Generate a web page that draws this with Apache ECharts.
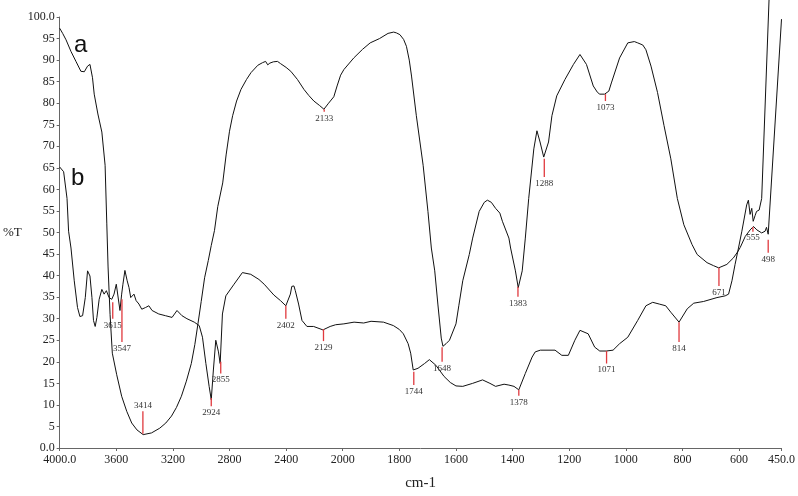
<!DOCTYPE html>
<html>
<head>
<meta charset="utf-8">
<script src="https://cdn.jsdelivr.net/npm/echarts@6/dist/echarts.min.js"></script>
<style>html,body{margin:0;padding:0;background:#fff}#c{width:798px;height:496px}</style>
</head>
<body>
<div id="c"></div>
<script>
// ---- data (wavenumber in cm-1, transmittance %T) ----
const aWn = [4000,3979,3955,3920,3885,3850,3826,3803,3786,3775,3768,3756,3730,3702,3679,3667,3658,3644,3628,3597,3562,3526,3491,3454,3410,3351,3293,3250,3210,3175,3140,3105,3070,3045,3023,3000,2976,2950,2929,2906,2883,2848,2824,2800,2778,2750,2719,2680,2648,2600,2567,2545,2530,2515,2490,2461,2440,2400,2367,2320,2274,2240,2204,2165,2133,2100,2063,2040,2015,1996,1961,1930,1903,1870,1840,1820,1810,1798,1785,1775,1765,1757,1740,1716,1699,1687,1675,1664,1652,1646,1635,1623,1600,1590,1576,1553,1541,1518,1500,1489,1475,1460,1445,1436,1413,1407,1390,1380,1366,1355,1343,1325,1314,1303,1290,1273,1261,1244,1215,1185,1162,1139,1115,1100,1092,1075,1060,1051,1022,993,970,958,940,929,911,888,865,841,818,795,766,748,713,690,672,643,620,605,596,578,561,549,537,520,508,503,497,450];
const aT  = [97.4,96.2,94.7,92,89.7,87.4,87.3,88.6,89,88.6,85.9,82.1,77.5,73.3,65.6,52,42,31,22,17,12,8.5,5.8,4.2,3.1,3.5,4.6,5.8,7.4,9.4,12,15.5,19.6,24,28.8,34,39.5,43.5,47,50.5,56,61.5,68,73.5,77.1,80.5,83.2,85.5,87.1,88.8,89.4,89.7,88.9,89.3,89.6,89.7,89.2,88.3,87.4,85.5,83.2,81.8,80.5,79.5,78.6,80,81.5,84,86.5,87.8,90.5,92.5,94,95,96.2,96.5,96.3,95.9,94.8,93.2,90,86.3,77.1,65.6,54.9,46.4,41.1,33.4,25.5,23.6,24.2,25,28.8,33,38.8,44.9,48.7,54.9,57,57.5,57,55.6,54.5,52.6,48.7,46.4,41.1,37.2,41.1,48.7,57.9,69.4,73.6,71,67.5,71,77.1,81.7,85.5,89,91.3,89,84,82.5,82.1,82.1,82.8,84.7,90.5,94,94.3,94,93.5,92.4,88.6,82.5,74.8,67.1,57.9,51.8,47.2,44.9,43,42.3,41.8,42.6,44.1,45.5,46.5,49.1,50.6,51.4,50.6,49.9,50.3,51.2,49.6,99.5];

const bWn = [4000,3972,3948,3937,3920,3897,3874,3857,3838,3819,3803,3786,3772,3761,3749,3737,3721,3702,3686,3670,3651,3632,3616,3600,3586,3574,3562,3553,3539,3523,3510,3498,3475,3460,3440,3420,3393,3370,3347,3300,3253,3206,3171,3136,3101,3049,3014,2991,2967,2944,2929,2914,2897,2878,2866,2850,2826,2768,2709,2650,2592,2555,2487,2440,2402,2370,2360,2352,2345,2335,2312,2288,2253,2206,2140,2089,2050,1996,1960,1926,1900,1856,1821,1800,1786,1769,1760,1751,1745,1734,1711,1694,1671,1642,1620,1600,1576,1541,1506,1480,1460,1430,1413,1395,1378,1355,1331,1320,1302,1250,1226,1203,1180,1162,1133,1110,1092,1069,1045,1022,993,958,929,905,882,859,841,812,783,760,725,678,649,637,625,614,602,590,573,567,561,555,550,543,538,529,520,494];
const bT  = [65.2,64.1,57.9,50.3,46.4,38.8,32.6,30.5,30.7,34.9,41.1,39.9,34.9,29.6,28.2,30.3,34.5,36.8,35.7,36.5,34.9,34.5,35.7,38,38.4,31.9,35.7,38,41.2,38.8,37.2,34.9,35.7,34.2,33.4,32.2,32.6,33,31.9,31.1,30.7,30.3,31.9,30.7,30,29.2,28.4,25.7,19.6,14.3,11.2,18.1,25,22.3,19.6,31.1,35.3,38,40.7,40.3,39.1,38,35.5,34.2,33,35.7,37.5,37.2,37.6,36.5,33.4,29.6,28.2,28.2,27.4,28.2,28.6,28.8,29.2,29,29.4,29.2,28.4,27.5,26.5,24.2,22,18.1,17.8,18.5,19.6,20.5,19.2,16.6,15.2,14.4,14.3,15,15.8,15,14.3,14.8,14.6,14.3,13.5,17.3,21.1,22.3,22.7,22.7,21.5,21.5,25,27.3,26.5,23.4,22.5,22.5,22.7,24.2,25.7,29.6,33,33.8,33.4,33,31.5,29.2,32.3,33.6,34,34.9,35.3,35.7,38.8,42.6,46.4,50.3,56.4,57.5,54.2,55.6,52.6,54,54.9,55.2,57.9,104];

// peak annotations: label text, position (cm-1), start on curve, end of marker (%T)
const peakText = ['3414','3615','3547','2924','2855','2402','2133','2129','1744','1648','1383','1378','1288','1073','1071','814','671','555','498'];
const peakWn   = [3412,3625,3560,2929,2862,2402,2131,2136,1749,1649,1381,1378,1288,1072,1068,812,671,551,497];
const peakFrom = [3.3,33.8,34.5,11.6,20,33,78.6,27.6,17.7,23.4,37.4,13.5,67.1,82.1,22.5,29.2,41.8,51.3,48.3];
const peakTo   = [8.5,30,24.6,9.7,17.3,30,78.0,24.8,14.6,20,35.1,12.1,62.9,80.5,19.6,24.6,37.6,50.2,45.3];

const xTicks = [4000,3600,3200,2800,2400,2000,1800,1600,1400,1200,1000,800,600,450];

// axis has a scale change at 2000 cm-1 (half scale above 2000)
function toAxis(w){ return w > 2000 ? 2000 + (w - 2000) / 2 : w; }
function fromAxis(t){ return t > 2000 ? 2000 + (t - 2000) * 2 : t; }

const chart = echarts.init(document.getElementById('c'), null, {renderer:'canvas'});
const serif = '"Liberation Serif", "Times New Roman", serif';

const peakData = peakWn.map((w,i)=>[toAxis(w), peakFrom[i], peakTo[i]]);

chart.setOption({
  animation:false,
  backgroundColor:'#fff',
  grid:{left:54, right:16, top:17, bottom:44, containLabel:false},
  xAxis:{
    type:'value', inverse:true, min:toAxis(450), max:toAxis(4000),
    splitLine:{show:false},
    axisLine:{show:true, onZero:false, lineStyle:{color:'#666', width:1}},
    axisTick:{show:true, length:3, inside:false, customValues: xTicks.map(toAxis), lineStyle:{color:'#666'}},
    axisLabel:{show:true, margin:6, customValues: xTicks.map(toAxis), color:'#222', fontFamily:serif, fontSize:12,
      formatter:function(v){ const w = Math.round(fromAxis(v)); return (w===4000||w===450) ? w.toFixed(1) : String(w); }},
    name:'cm-1', nameLocation:'middle', nameGap:28,
    nameTextStyle:{fontFamily:serif, fontSize:15, color:'#222'}
  },
  yAxis:{
    type:'value', min:0, max:100, interval:5,
    splitLine:{show:false},
    axisLine:{show:true, lineStyle:{color:'#666', width:1}},
    axisTick:{show:true, length:3, lineStyle:{color:'#666'}},
    axisLabel:{margin:5, color:'#222', fontFamily:serif, fontSize:12,
      formatter:function(v){ return (v===0||v===100) ? v.toFixed(1) : String(v); }},
    name:'%T', nameLocation:'middle', nameRotate:0, nameGap:33,
    nameTextStyle:{fontFamily:serif, fontSize:13, color:'#222'}
  },
  series:[
    {type:'line', name:'a', data:aWn.map((w,i)=>[toAxis(w), aT[i]]), showSymbol:false, symbol:'none', clip:false,
     lineStyle:{color:'#111', width:1}, z:3},
    {type:'line', name:'b', data:bWn.map((w,i)=>[toAxis(w), bT[i]]), showSymbol:false, symbol:'none', clip:false,
     lineStyle:{color:'#111', width:1}, z:3},
    {type:'custom', name:'peaks', data:peakData, encode:{x:0, y:[1,2]}, clip:false, z:4,
     renderItem:function(params, api){
       const i = params.dataIndex;
       const p1 = api.coord([api.value(0), api.value(1)]);
       const p2 = api.coord([api.value(0), api.value(2)]);
       const up = api.value(2) > api.value(1);
       return {type:'group', children:[
         {type:'line', shape:{x1:p1[0], y1:p1[1], x2:p2[0], y2:p2[1]}, style:{stroke:'#e0393e', lineWidth:1.3}},
         {type:'text', style:{text:peakText[i], x:p2[0], y: up ? p2[1] - 1 : p2[1] + 2,
           align:'center', verticalAlign: up ? 'bottom' : 'top',
           font:'9px ' + serif, fill:'#333'}}
       ]};
     }}
  ],
  graphic:[
    {type:'text', left:74, top:33, style:{text:'a', font:'24px "Liberation Sans", Arial, sans-serif', fill:'#111'}},
    {type:'text', left:71, top:166, style:{text:'b', font:'24px "Liberation Sans", Arial, sans-serif', fill:'#111'}}
  ]
});
</script>
</body>
</html>
